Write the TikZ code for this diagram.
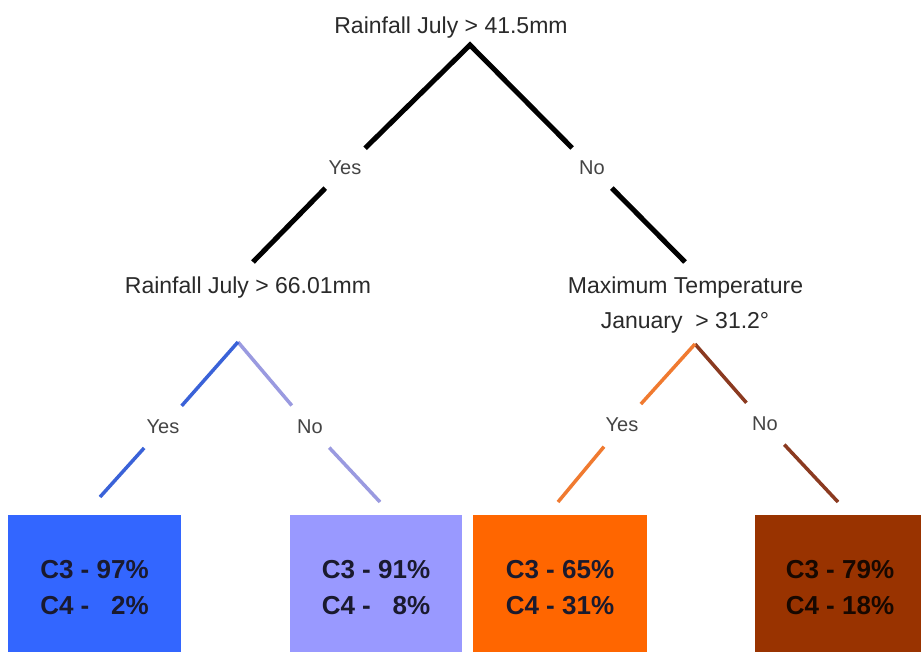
\documentclass[tikz,border=0pt]{standalone}
\usepackage{fontspec}
\setmainfont{Liberation Sans}
\definecolor{boxA}{HTML}{3366FF}
\definecolor{boxB}{HTML}{9999FF}
\definecolor{boxC}{HTML}{FF6600}
\definecolor{boxD}{HTML}{993300}
\definecolor{lineA}{HTML}{3A62D8}
\definecolor{lineB}{HTML}{9A9AE0}
\definecolor{lineC}{HTML}{F07A30}
\definecolor{lineD}{HTML}{8B3A20}
\definecolor{labtext}{HTML}{2A2A2A}
\definecolor{ynText}{HTML}{444444}
\definecolor{boxtext}{HTML}{1A1A2E}
\tikzset{
  qtext/.style={inner sep=0pt, anchor=base, text=labtext, font=\fontsize{23}{28}\selectfont},
  yn/.style={circle, minimum size=56pt, inner sep=0pt, text=ynText, font=\fontsize{20}{24}\selectfont},
  blackline/.style={line width=5pt, black, line join=miter},
  colline/.style={line width=3.5pt},
  leaf/.style={inner sep=0pt, minimum height=146pt, align=center, text=boxtext,
     font=\fontsize{26}{36}\selectfont\bfseries},
}
\begin{document}
\begin{tikzpicture}[x=1pt,y=-1pt]
\useasboundingbox (0,0) rectangle (921,651);
\fill[white] (0,0) rectangle (921,651);

% top question
\node[qtext] (q0) at (451,33) {Rainfall July > 41.5mm};
\coordinate (a0) at (470,45);
\node[yn] (y0) at (345,168) {Yes};
\node[yn] (n0) at (592,168) {No};
\coordinate (e0l) at (253,262);
\coordinate (e0r) at (685,262);
\draw[blackline] (y0) -- (a0) -- (n0);
\draw[blackline] (y0) -- (e0l);
\draw[blackline] (n0) -- (e0r);

% second level questions
\node[qtext] (q1) at (248,293) {Rainfall July > 66.01mm};
\node[qtext] (q2a) at (685.5,293) {Maximum Temperature};
\node[qtext] (q2b) at (685,328) {January \ > 31.2°};

% blue subtree
\coordinate (a1) at (238,342);
\node[yn] (y1) at (163,427) {Yes};
\node[yn] (n1) at (310,427) {No};
\coordinate (e1l) at (100,497);
\coordinate (e1r) at (380,502);
\draw[colline, lineB] (a1) -- (n1);
\draw[colline, lineB] (n1) -- (e1r);
\draw[colline, lineA] (y1) -- (a1);
\draw[colline, lineA] (y1) -- (e1l);

% orange subtree
\coordinate (a2) at (695,344);
\node[yn] (y2) at (622,425) {Yes};
\node[yn] (n2) at (765,424) {No};
\coordinate (e2l) at (558,502);
\coordinate (e2r) at (838,502);
\draw[colline, lineD] (a2) -- (n2);
\draw[colline, lineD] (n2) -- (e2r);
\draw[colline, lineC] (y2) -- (a2);
\draw[colline, lineC] (y2) -- (e2l);

% leaves
\node[leaf, fill=boxA, minimum width=173pt] (b1) at (94.5,588) {C3 - 97\%\\C4 - \phantom{0}2\%};
\node[leaf, fill=boxB, minimum width=172pt] (b2) at (376,588) {C3 - 91\%\\C4 - \phantom{0}8\%};
\node[leaf, fill=boxC, minimum width=174pt] (b3) at (560,588) {C3 - 65\%\\C4 - 31\%};
\node[leaf, fill=boxD, minimum width=170pt, text=black!85!boxD] (b4) at (840,588) {C3 - 79\%\\C4 - 18\%};
\end{tikzpicture}
\end{document}
